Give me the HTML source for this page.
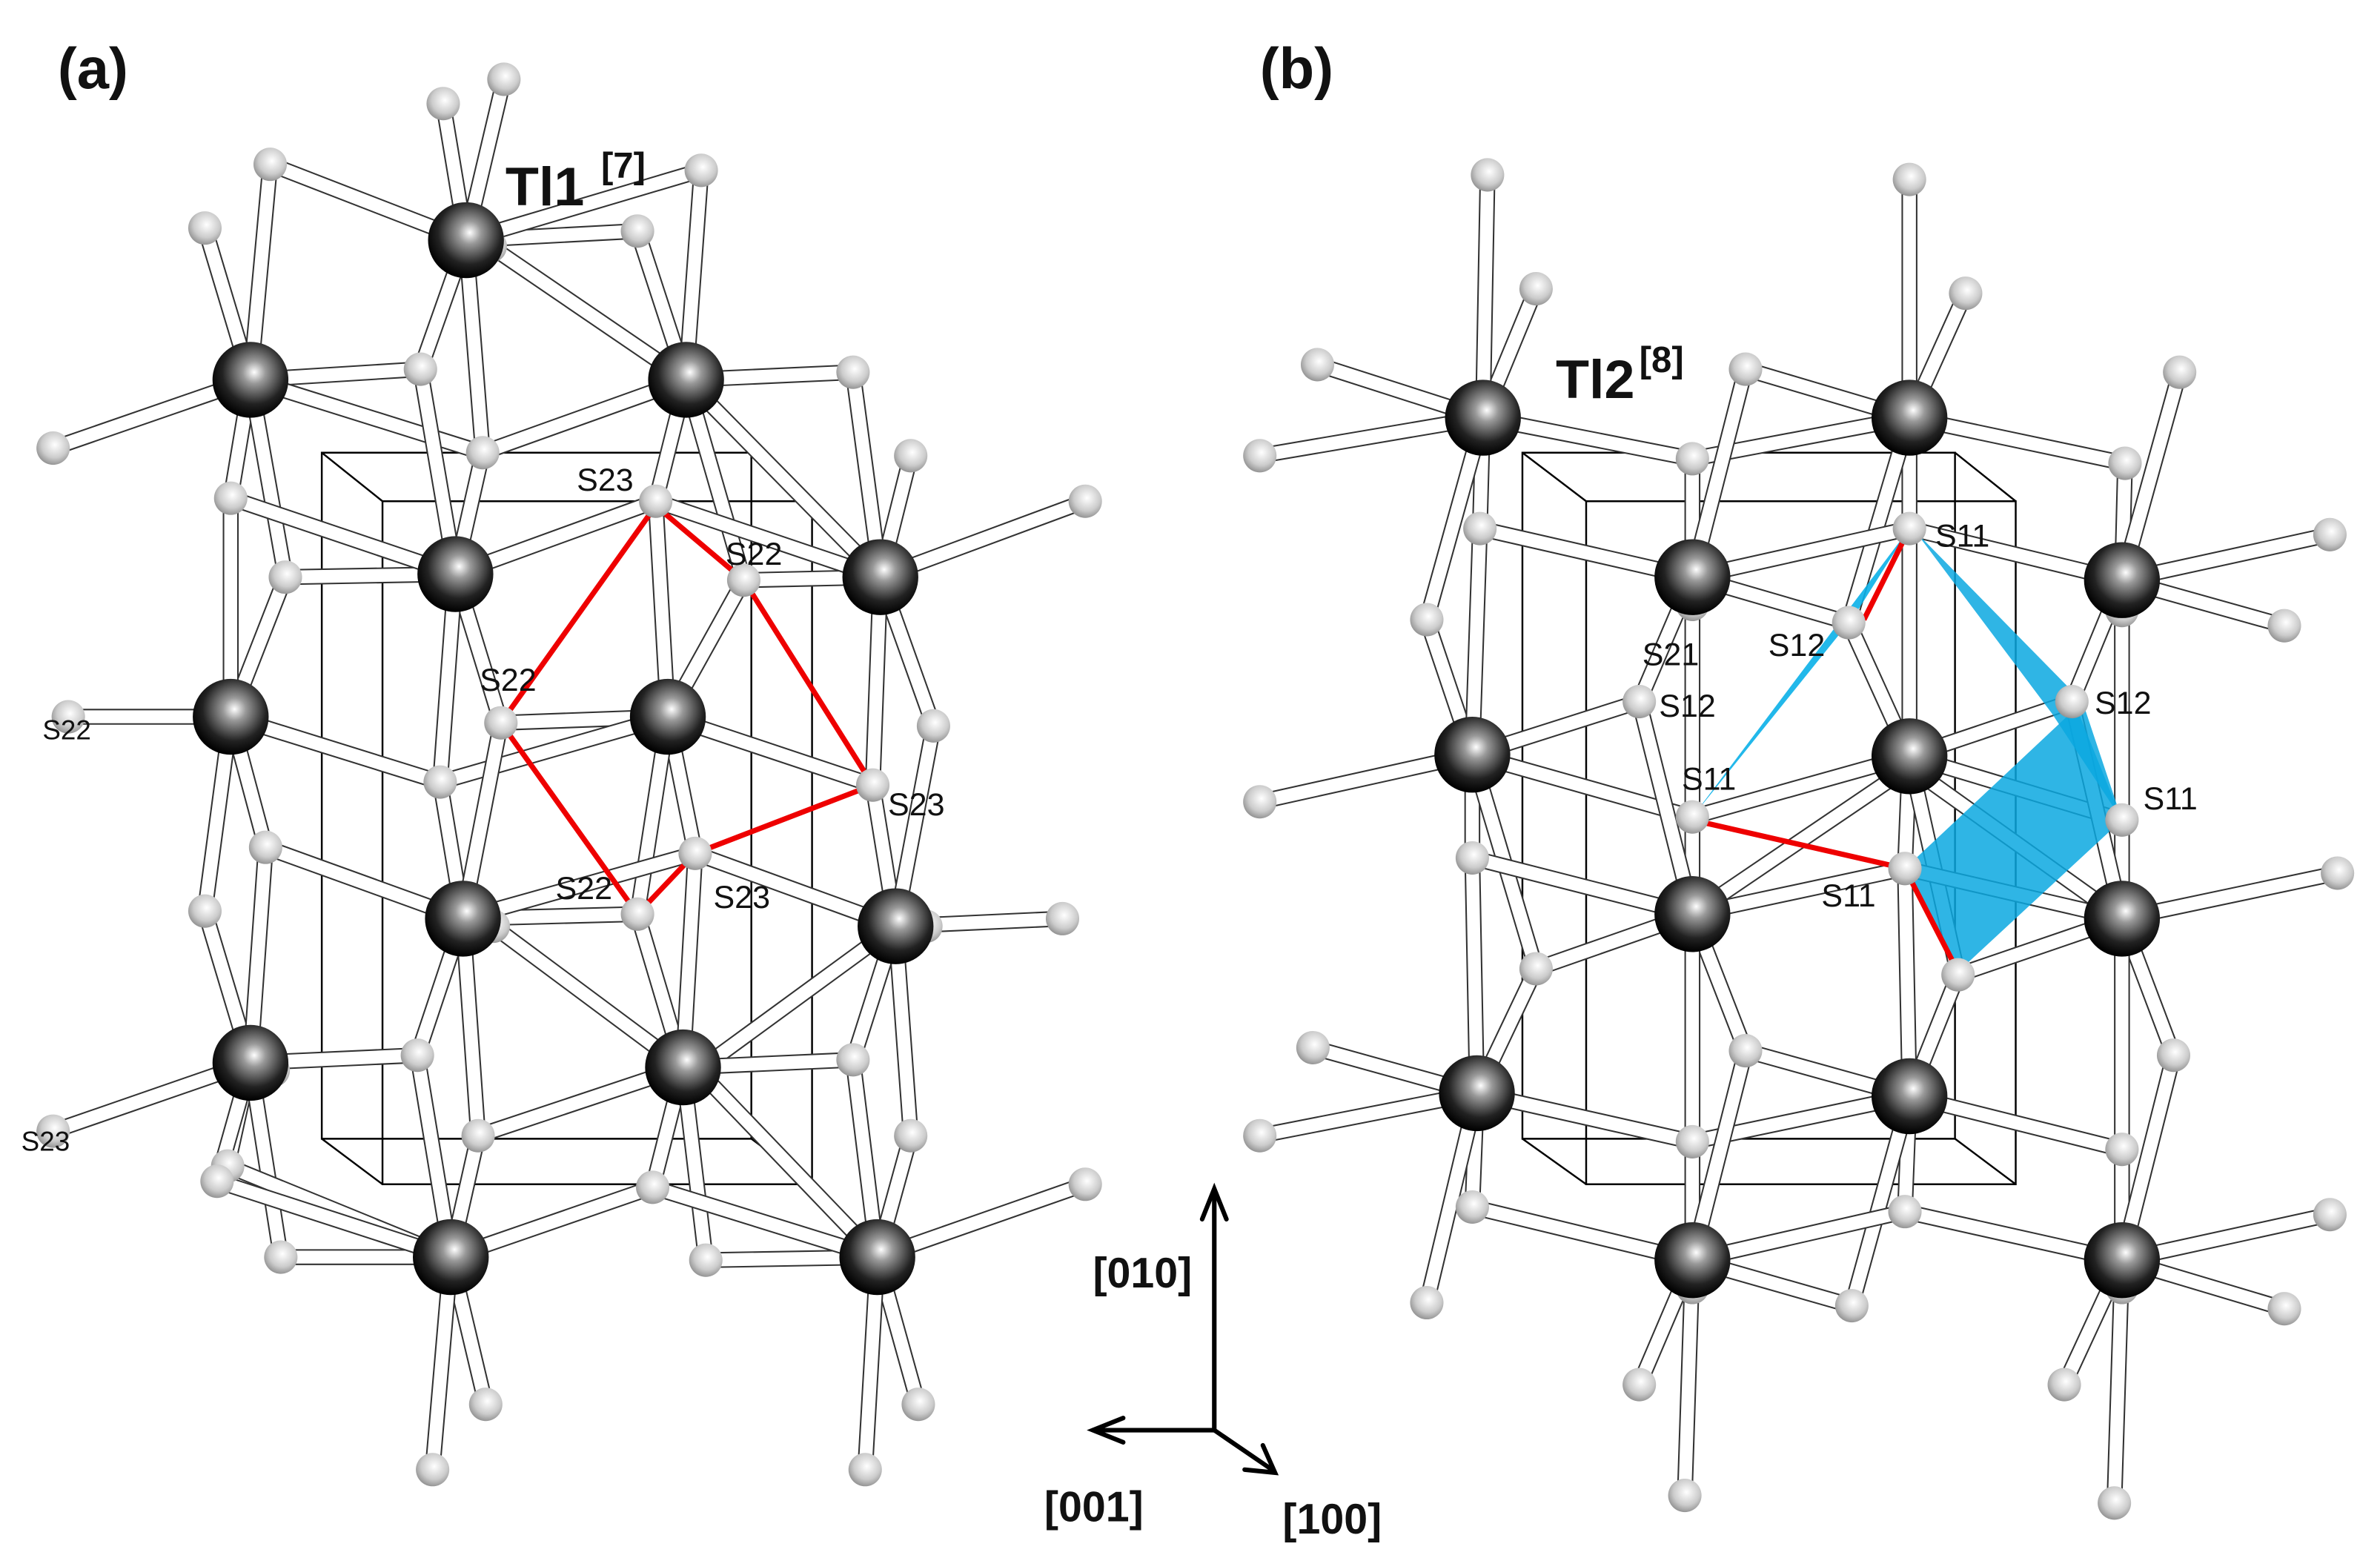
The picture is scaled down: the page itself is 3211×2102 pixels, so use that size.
<!DOCTYPE html>
<html><head><meta charset="utf-8"><style>
html,body{margin:0;padding:0;background:#fff;width:3211px;height:2102px;overflow:hidden}
svg{display:block}
text{font-family:"Liberation Sans",sans-serif;fill:#111}
</style></head><body>
<svg id="s" width="3211" height="2102" viewBox="0 0 1568 1026" xmlns="http://www.w3.org/2000/svg">
<defs>
<radialGradient id="dk" cx="0.55" cy="0.4" r="0.6"><stop offset="0" stop-color="#fff"/><stop offset="0.25" stop-color="#999"/><stop offset="0.7" stop-color="#222"/><stop offset="1" stop-color="#000"/></radialGradient>
<radialGradient id="lt" cx="0.55" cy="0.4" r="0.65"><stop offset="0" stop-color="#fff"/><stop offset="0.6" stop-color="#ccc"/><stop offset="1" stop-color="#888"/></radialGradient>
</defs>
<g id="cell" fill="none" stroke="#000" stroke-width="1.2">
<path d="M212,298H495V750H212Z M252,330H535V780H252Z M212,298L252,330 M495,298L535,330 M495,750L535,780 M212,750L252,780"/>
<path d="M1003,298H1288V750H1003Z M1045,330H1328V780H1045Z M1003,298L1045,330 M1288,298L1328,330 M1288,750L1328,780 M1003,750L1045,780"/>
</g>
<g id="bonds"></g>
<g id="poly">
<polygon points="1258,348 1222,405 1115,538" fill="#0ab0e8" opacity="0.9"/>
<polygon points="1262,350 1372,462 1398,540 1352,470" fill="#0aa8e0" opacity="0.85"/>
<polygon points="1255,572 1368,466 1398,540 1290,640" fill="#0aa8e0" opacity="0.85"/>
</g>
<g fill="none" stroke="#e00" stroke-width="3.5">
<path d="M432,333L330,476L420,602L458,562L575,517L490,382Z"/>
<path d="M1258,348L1228,408 M1115,540L1255,572L1290,640"/>
</g>
<g id="atoms"></g>
<g font-size="21">
<text x="380" y="323">S23</text><text x="478" y="372">S22</text><text x="316" y="455">S22</text>
<text x="585" y="537">S23</text><text x="366" y="592">S22</text><text x="470" y="598">S23</text>
<text x="28" y="487" font-family="Liberation Serif" font-size="18">S22</text>
<text x="14" y="758" font-family="Liberation Serif" font-size="18">S23</text>
<text x="1275" y="360">S11</text><text x="1165" y="432">S12</text><text x="1082" y="438">S21</text>
<text x="1093" y="472">S12</text><text x="1108" y="520">S11</text><text x="1380" y="470">S12</text>
<text x="1412" y="533">S11</text><text x="1200" y="597">S11</text>
</g>
<g font-weight="bold">
<text x="38" y="58" font-size="38">(a)</text>
<text x="830" y="58" font-size="38">(b)</text>
<text x="333" y="135" font-size="36">Tl1</text><text x="396" y="117" font-size="24">[7]</text>
<text x="1025" y="262" font-size="36">Tl2</text><text x="1080" y="245" font-size="24">[8]</text>
<text x="720" y="848" font-size="28">[010]</text>
<text x="688" y="1002" font-size="28">[001]</text>
<text x="845" y="1010" font-size="28">[100]</text>
</g>
<g stroke="#000" stroke-width="3" fill="none" stroke-linecap="round">
<line x1="800" y1="942" x2="800" y2="785"/><path d="M792,803L800,783L808,803"/>
<line x1="800" y1="942" x2="722" y2="942"/><path d="M740,934L720,942L740,950"/>
<line x1="800" y1="942" x2="838" y2="968"/><path d="M820,968L840,970L832,952"/>
</g>
</svg>
<script>
var D=[[307,158],[165,250],[452,250],[300,378],[580,380],[152,472],[440,472],[305,605],[590,610],[165,700],[450,703],[297,828],[578,828],
[977,275],[1258,275],[1115,380],[1398,382],[970,497],[1258,498],[1115,602],[1398,605],[973,720],[1258,722],[1115,830],[1398,830]];
var L=[[332,52],[292,68],[178,108],[462,112],[135,150],[420,152],[323,162],[277,243],[562,245],[318,298],[35,295],[152,328],[432,330],[600,300],[715,330],[188,380],[490,382],[330,476],[45,472],[615,478],[575,517],[290,515],[175,558],[458,562],[135,600],[420,602],[700,605],[325,610],[610,610],[275,695],[562,698],[150,768],[315,748],[600,748],[430,782],[185,828],[465,830],[715,780],[35,745],[143,778],[320,925],[605,925],[285,968],[570,968],[180,705],[460,705],[165,258],[460,258],
[980,115],[1258,118],[1012,190],[1295,193],[868,240],[1150,243],[1436,245],[830,300],[1115,302],[1400,305],[975,348],[1258,348],[1535,352],[940,408],[1218,410],[1505,412],[1115,398],[1398,402],[1080,462],[1365,462],[830,528],[1115,538],[1398,540],[970,565],[1255,572],[1540,575],[1012,638],[1290,642],[865,690],[1150,692],[1432,695],[830,748],[1115,752],[1398,757],[970,795],[1255,798],[1535,800],[1220,860],[1505,862],[1080,912],[1360,912],[1110,985],[1393,990],[940,858],[1115,848],[1398,848],[1258,505],[970,490]];
var ns="http://www.w3.org/2000/svg",B=document.getElementById('bonds'),A=document.getElementById('atoms');
function ln(a,b,w,c){var e=document.createElementNS(ns,'line');e.setAttribute('x1',a[0]);e.setAttribute('y1',a[1]);e.setAttribute('x2',b[0]);e.setAttribute('y2',b[1]);e.setAttribute('stroke',c);e.setAttribute('stroke-width',w);e.setAttribute('stroke-linecap','round');B.appendChild(e);}
D.forEach(function(d){var c=L.map(function(l){return [Math.hypot(l[0]-d[0],l[1]-d[1]),l]}).filter(function(x){return x[0]>5&&x[0]<175}).sort(function(a,b){return a[0]-b[0]}).slice(0,8);
c.forEach(function(x){ln(d,x[1],10.5,'#333');ln(d,x[1],8.5,'#fff');});});
function ci(p,r,f){var e=document.createElementNS(ns,'circle');e.setAttribute('cx',p[0]);e.setAttribute('cy',p[1]);e.setAttribute('r',r);e.setAttribute('fill',f);A.appendChild(e);}
L.forEach(function(l){ci(l,11,'url(#lt)')});
D.forEach(function(d){ci(d,25,'url(#dk)')});
</script>
</body></html>
